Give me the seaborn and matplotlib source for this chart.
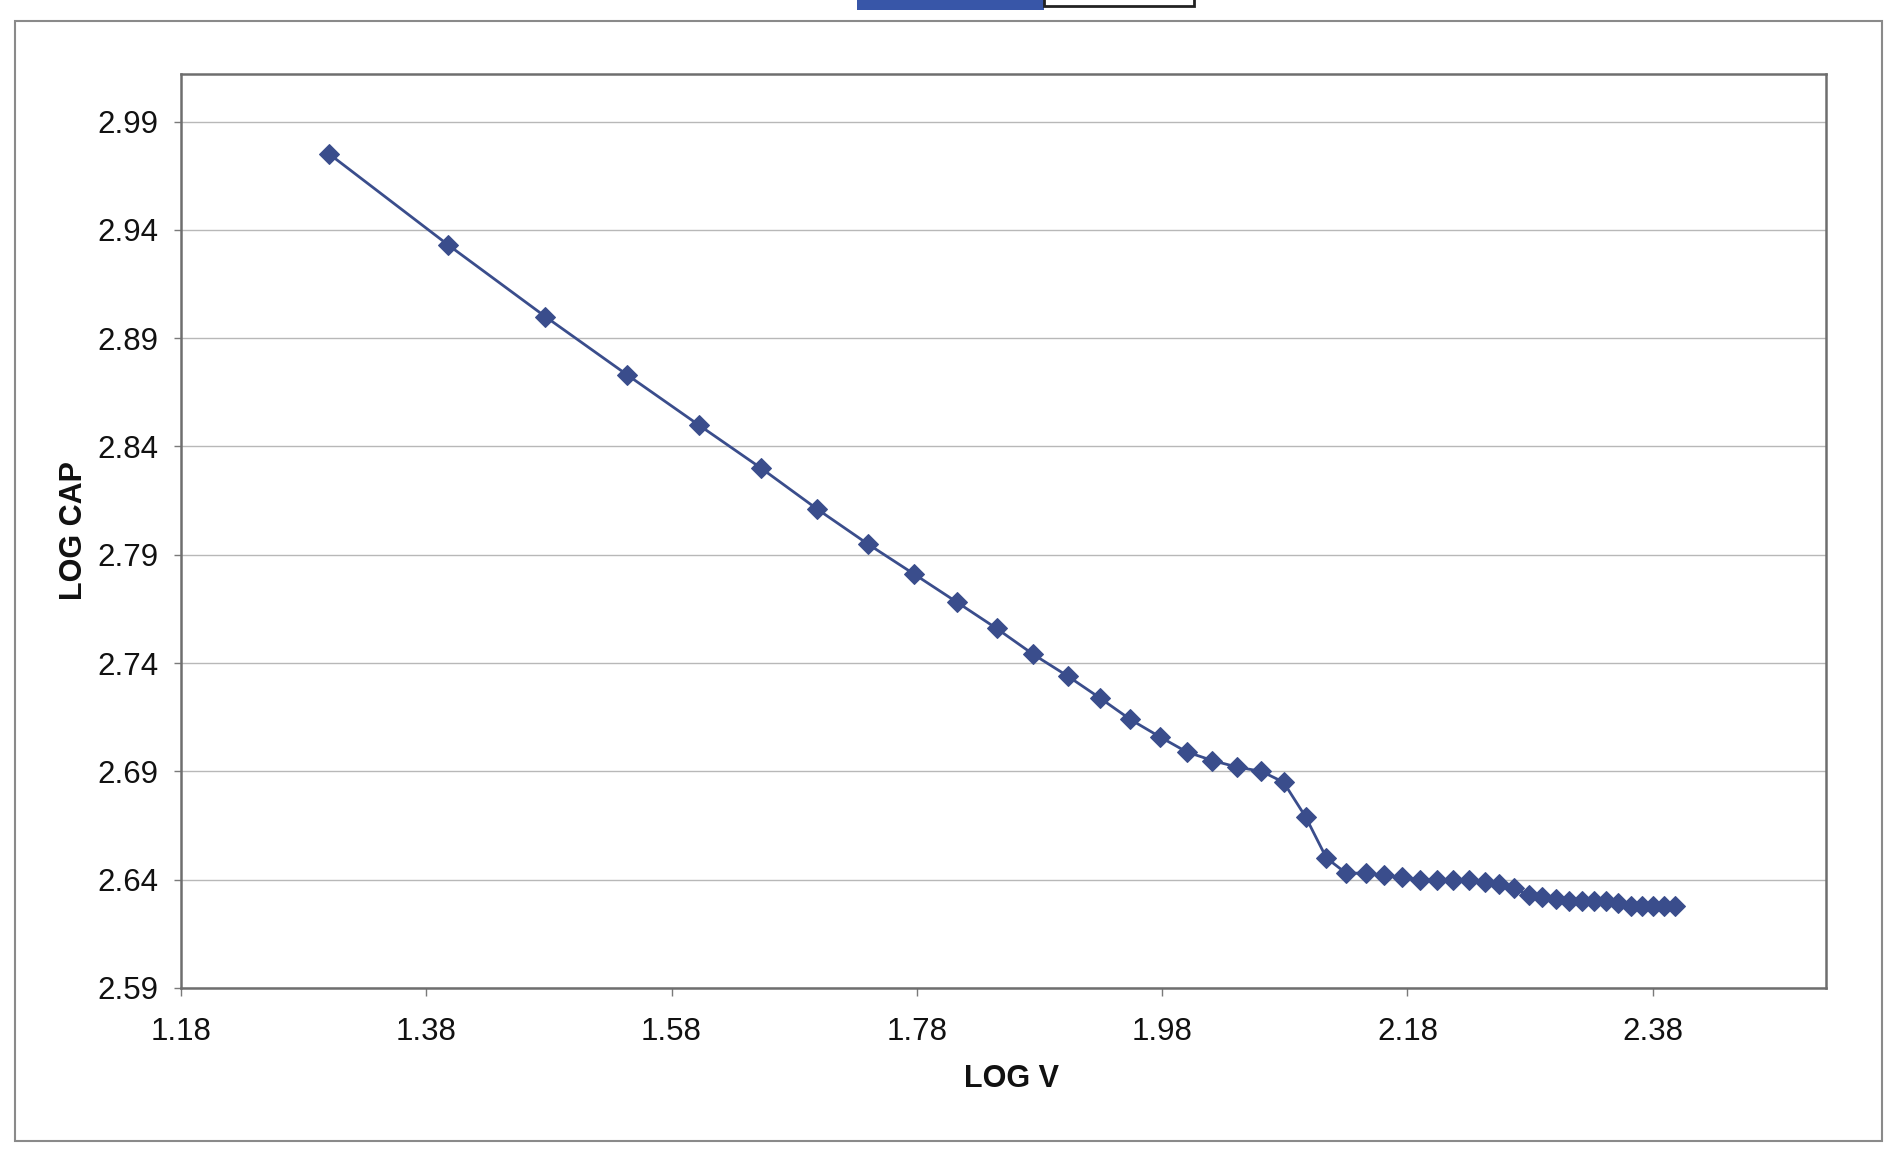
import matplotlib
matplotlib.use("Agg")
import matplotlib.pyplot as plt
import seaborn as sns
import pandas as pd
from matplotlib.patches import Rectangle

# ---- data ----
log_v = [1.301, 1.398, 1.477, 1.544, 1.602, 1.653, 1.699, 1.740, 1.778, 1.813,
         1.845, 1.875, 1.903, 1.929, 1.954, 1.978, 2.000, 2.021, 2.041, 2.061,
         2.079, 2.097, 2.114, 2.130, 2.146, 2.161, 2.176, 2.190, 2.204, 2.217,
         2.230, 2.243, 2.255, 2.267, 2.279, 2.290, 2.301, 2.312, 2.322, 2.332,
         2.342, 2.352, 2.362, 2.371, 2.380, 2.389, 2.398]
log_cap = [2.975, 2.933, 2.900, 2.873, 2.850, 2.830, 2.811, 2.795, 2.781, 2.768,
           2.756, 2.744, 2.734, 2.724, 2.714, 2.706, 2.699, 2.695, 2.692, 2.690,
           2.685, 2.669, 2.650, 2.643, 2.643, 2.642, 2.641, 2.640, 2.640, 2.640,
           2.640, 2.639, 2.638, 2.636, 2.633, 2.632, 2.631, 2.630, 2.630, 2.630,
           2.630, 2.629, 2.628, 2.628, 2.628, 2.628, 2.628]
x_ticks = [1.18, 1.38, 1.58, 1.78, 1.98, 2.18, 2.38]
y_ticks = [2.59, 2.64, 2.69, 2.74, 2.79, 2.84, 2.89, 2.94, 2.99]
x_label = "LOG V"
y_label = "LOG CAP"

df = pd.DataFrame({"LOG V": log_v, "LOG CAP": log_cap})

sns.set_theme(style="white")
plt.rcParams["font.family"] = ["Liberation Sans", "DejaVu Sans"]

fig = plt.figure(figsize=(18.93, 11.52), dpi=100)
fig.patch.set_facecolor("white")
ax = fig.add_axes([0.0956, 0.1424, 0.9644 - 0.0956, 0.9358 - 0.1424])

line_color = "#3a4d8c"
sns.lineplot(data=df, x="LOG V", y="LOG CAP", ax=ax, color=line_color,
             linewidth=2.0, marker="D", markersize=10.5,
             markerfacecolor=line_color, markeredgecolor=line_color,
             sort=False, legend=False)

ax.set_xlim(1.18, 2.521)
ax.set_ylim(2.59, 3.012)
ax.set_xticks(x_ticks)
ax.set_yticks(y_ticks)
ax.set_xticklabels([f"{t:.2f}" for t in x_ticks])
ax.set_yticklabels([f"{t:.2f}" for t in y_ticks])

ax.yaxis.grid(True, color="#b8b8b8", linewidth=1.0)
ax.xaxis.grid(False)
ax.set_axisbelow(True)

for s in ax.spines.values():
    s.set_visible(True)
    s.set_color("#6e6e6e")
    s.set_linewidth(1.8)

ax.tick_params(axis="x", which="major", direction="out", length=6, width=1.0,
               color="#7a7a7a", pad=15, labelsize=22.5, labelcolor="#111111",
               bottom=True)
ax.tick_params(axis="y", which="major", direction="out", length=5, width=1.0,
               color="#7a7a7a", pad=11, labelsize=22.5, labelcolor="#111111",
               left=True)

ax.set_xlabel(x_label, fontsize=22, fontweight="bold", color="#111111")
ax.set_ylabel(y_label, fontsize=22, fontweight="bold", color="#111111")
ax.xaxis.set_label_coords(0.505, -0.083)
ax.yaxis.set_label_coords(-0.056, 0.5)

# outer chart-area frame
fig.add_artist(Rectangle((0.008, 0.0095), 0.986, 0.9725, transform=fig.transFigure,
                         fill=False, edgecolor="#8a8a8a", linewidth=1.5))
# partial elements cut at the top of the page
fig.add_artist(Rectangle((0.4527, 0.991), 0.0988, 0.012, transform=fig.transFigure,
                         facecolor="#3856a8", edgecolor="none"))
fig.add_artist(Rectangle((0.5515, 0.9945), 0.0795, 0.01, transform=fig.transFigure,
                         facecolor="white", edgecolor="#222222", linewidth=2))

fig.savefig("out.png", dpi=100, facecolor="white")
